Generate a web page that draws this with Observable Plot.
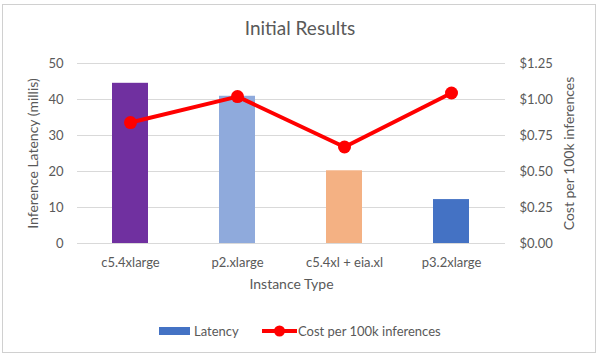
<!DOCTYPE html>
<html>
<head>
<meta charset="utf-8">
<script src="https://cdn.jsdelivr.net/npm/d3@7"></script>
<script src="https://cdn.jsdelivr.net/npm/@observablehq/plot@0.6"></script>
<style>
  body { margin: 0; background: #fff; font-family: Lato, "Open Sans", sans-serif; }
  #frame { position: relative; width: 600px; height: 355px; box-sizing: border-box; overflow: hidden; }
  #border { position: absolute; left: 2px; top: 4px; width: 594px; height: 349px; border: 1px solid #d0d0d0; box-sizing: border-box; }
  #title { position: absolute; left: 0; width: 600px; top: 16px; text-align: center; font-size: 19px; color: #595959; }
  #chart { position: absolute; left: 0; top: 45px; }
  #legend { position: absolute; top: 322px; left: 0; width: 600px; font-size: 13px; color: #595959; }
  .item { display: flex; align-items: center; position: absolute; top: 0; }
</style>
</head>
<body>
<div id="frame">
  <div id="border"></div>
  <div id="title">Initial Results</div>
  <div id="chart"></div>
  <div id="legend"></div>
</div>
<script>
const categories = ["c5.4xlarge", "p2.xlarge", "c5.4xl + eia.xl", "p3.2xlarge"];
const latency = [44.5, 40.9, 20.2, 12.2];
const cost = [0.84, 1.02, 0.67, 1.045];
const barColors = ["#7030A0", "#8FAADC", "#F4B183", "#4472C4"];
const latencyTicks = [0, 10, 20, 30, 40, 50];
const costTicks = [0, 0.25, 0.5, 0.75, 1.0, 1.25];
const seriesNames = ["Latency", "Cost per 100k inferences"];

const ratio = 50 / 1.25;
const rows = categories.map((c, i) => ({cat: c, latency: latency[i], cost: cost[i], color: barColors[i]}));

const plot = Plot.plot({
  width: 600,
  height: 255,
  marginLeft: 77,
  marginRight: 95,
  marginTop: 18,
  marginBottom: 57,
  style: {fontFamily: "Lato, 'Open Sans', sans-serif", fontSize: "13px", color: "#595959", background: "transparent"},
  x: {type: "band", domain: categories, paddingInner: 0.66, paddingOuter: 0.33, axis: null},
  y: {domain: [0, 50], axis: null},
  marks: [
    Plot.gridY(latencyTicks, {stroke: "#d9d9d9", strokeOpacity: 1, strokeWidth: 1}),
    Plot.axisY(latencyTicks, {anchor: "left", tickSize: 0, tickPadding: 14, label: null, fontSize: 13}),
    Plot.axisY(costTicks.map(d => d * ratio), {anchor: "right", tickSize: 0, tickPadding: 14, label: null, fontSize: 13,
      tickFormat: d => "$" + (d / ratio).toFixed(2)}),
    Plot.axisX(categories, {anchor: "bottom", tickSize: 0, tickPadding: 14, label: null, fontSize: 13}),
    Plot.barY(rows, {x: "cat", y: "latency", fill: "color"}),
    Plot.line(rows, {x: "cat", y: d => d.cost * ratio, stroke: "#FF0000", strokeWidth: 4, curve: "linear"}),
    Plot.dot(rows, {x: "cat", y: d => d.cost * ratio, fill: "#FF0000", r: 6.5}),
    Plot.text(["Inference Latency (millis)"], {frameAnchor: "left", dx: -44, rotate: -90, textAnchor: "middle", fontSize: 14, fill: "#595959"}),
    Plot.text(["Cost per 100k inferences"], {frameAnchor: "right", dx: 64, rotate: -90, textAnchor: "middle", fontSize: 14, fill: "#595959"}),
    Plot.text(["Instance Type"], {frameAnchor: "bottom", dy: 45, fontSize: 14, fill: "#595959"})
  ]
});
document.getElementById("chart").appendChild(plot);

const legend = document.getElementById("legend");
const it1 = document.createElement("div");
it1.className = "item";
it1.style.left = "159px";
it1.innerHTML = `<svg width="35" height="18"><rect x="0" y="5" width="31" height="8" fill="${barColors[3]}"></rect></svg><span>${seriesNames[0]}</span>`;
legend.appendChild(it1);
const it2 = document.createElement("div");
it2.className = "item";
it2.style.left = "262px";
it2.innerHTML = `<svg width="36" height="18"><line x1="0" y1="9" x2="35" y2="9" stroke="#FF0000" stroke-width="4"></line><circle cx="17.5" cy="9" r="5.5" fill="#FF0000"></circle></svg><span>${seriesNames[1]}</span>`;
legend.appendChild(it2);
</script>
</body>
</html>
